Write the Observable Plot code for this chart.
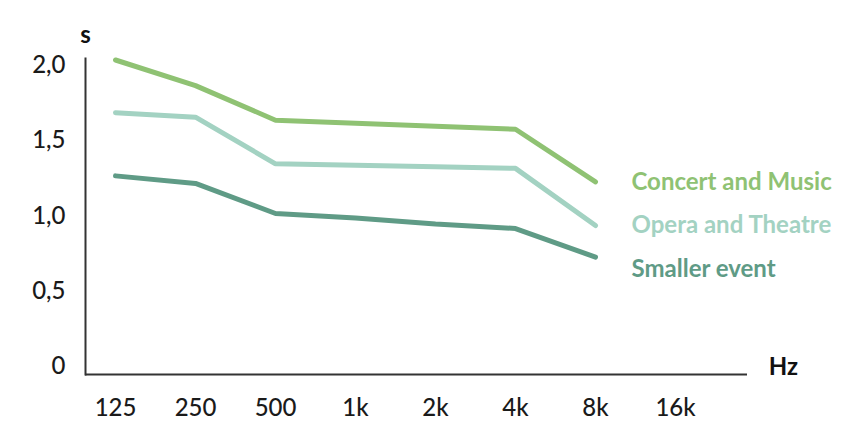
<!DOCTYPE html>
<html>
<head>
<meta charset="utf-8">
<script src="https://cdn.jsdelivr.net/npm/d3@7"></script>
<script src="https://cdn.jsdelivr.net/npm/@observablehq/plot@0.6"></script>
<style>
  html, body { margin: 0; padding: 0; background: #fff; }
  #chart svg { display: block; }
</style>
</head>
<body>
<div id="chart"></div>
<script>
// Frequency bands (tick labels)
const bands = ["125", "250", "500", "1k", "2k", "4k", "8k", "16k"];
// Reverberation time (s) per band, bands 125 .. 8k
const concertMusic = [2.09, 1.92, 1.69, 1.67, 1.65, 1.63, 1.28];
const operaTheatre = [1.74, 1.71, 1.40, 1.39, 1.38, 1.37, 0.99];
const smallerEvent = [1.32, 1.27, 1.07, 1.04, 1.00, 0.97, 0.78];
const seriesNames = ["Concert and Music", "Opera and Theatre", "Smaller event"];
const seriesColors = ["#8fc273", "#a3d2c2", "#5f9b86"];
const yTicks = [0, 0.5, 1.0, 1.5, 2.0];

const seriesValues = [concertMusic, operaTheatre, smallerEvent];
const rows = seriesNames.flatMap((name, s) =>
  seriesValues[s].map((v, i) => ({band: bands[i], value: v, series: name})));
const lastRows = seriesNames.map((name, s) =>
  ({band: bands[seriesValues[s].length - 1], value: seriesValues[s][seriesValues[s].length - 1], series: name}));

const font = "Lato, 'Open Sans', sans-serif";
const fmt = d => d === 0 ? "0" : d.toFixed(1).replace(".", ",");

const chart = Plot.plot({
  width: 858,
  height: 421,
  marginLeft: 85,
  marginRight: 111,
  marginTop: 58,
  marginBottom: 47,
  style: {fontFamily: font, fontSize: "24px", color: "#1a1a1a", background: "#fff"},
  x: {type: "point", domain: bands, padding: 0.622, align: 0.29},
  y: {domain: [0, 2.1]},
  color: {domain: seriesNames, range: seriesColors},
  marks: [
    Plot.axisX({ticks: bands, tickSize: 0, tickPadding: 24, label: null, fontSize: 24, fontWeight: 500}),
    Plot.axisY({ticks: yTicks, tickFormat: fmt, tickSize: 0, tickPadding: 20, dy: -8, label: null, fontSize: 24, fontWeight: 500}),
    Plot.frame({anchor: "left", stroke: "#333", strokeWidth: 2}),
    Plot.ruleY([0], {stroke: "#333", strokeWidth: 2}),
    Plot.line(rows, {x: "band", y: "value", z: "series", stroke: "series", strokeWidth: 5, strokeLinejoin: "miter"}),
    Plot.text(lastRows.filter(d => d.series !== "Smaller event"), {
      x: "band", y: "value", text: "series", fill: "series",
      textAnchor: "start", dx: 36, fontSize: 24, fontWeight: "bold"
    }),
    Plot.text(lastRows.filter(d => d.series === "Smaller event"), {
      x: "band", y: "value", text: "series", fill: "series",
      textAnchor: "start", dx: 36, dy: 12, fontSize: 24, fontWeight: "bold"
    }),
    Plot.text(["s"], {frameAnchor: "top-left", text: d => d, dy: -33, textAnchor: "middle", fontSize: 24, fontWeight: "bold", fill: "#111"}),
    Plot.text(["Hz"], {frameAnchor: "bottom-right", text: d => d, dx: 36, textAnchor: "middle", fontSize: 24, fontWeight: "bold", fill: "#111"})
  ]
});
document.getElementById("chart").appendChild(chart);
</script>
</body>
</html>
